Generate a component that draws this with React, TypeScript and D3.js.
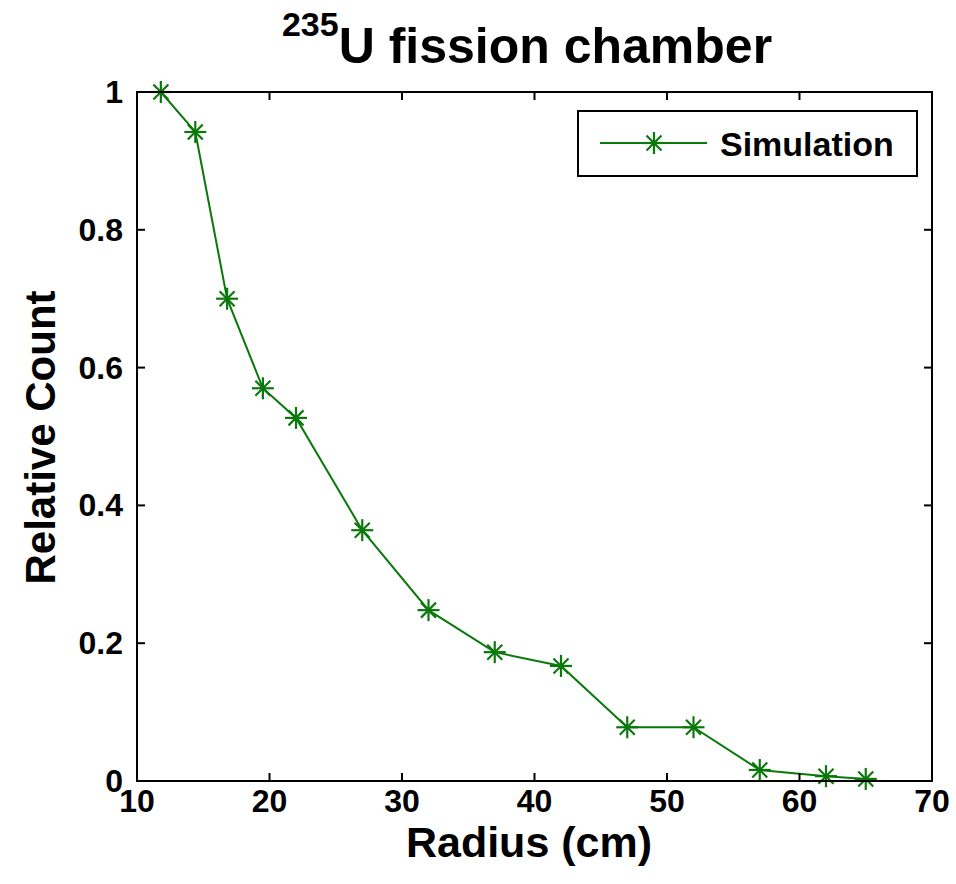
import React from "react";
import * as d3 from "d3";

const radius = [11.8, 14.4, 16.8, 19.5, 22, 27, 32, 37, 42, 47, 52, 57, 62, 65];
const relativeCount = [1.0, 0.942, 0.7, 0.57, 0.527, 0.364, 0.248, 0.187, 0.167, 0.078, 0.078, 0.016, 0.007, 0.003];
const xTicks = [10, 20, 30, 40, 50, 60, 70];
const yTicks = [0, 0.2, 0.4, 0.6, 0.8, 1];
const yTickLabels = ["0", "0.2", "0.4", "0.6", "0.8", "1"];
const seriesName = "Simulation";
const titleSup = "235";
const titleMain = "U fission chamber";
const xLabel = "Radius (cm)";
const yLabel = "Relative Count";

const W = 956;
const H = 884;
const L = 137, R = 932, T = 92, B = 781;
const GREEN = "#0a780a";
const FONT = "'Liberation Sans', Arial, Helvetica, sans-serif";

function Star({ cx, cy }: { cx: number; cy: number }) {
  const a = 11, d = 7.5;
  return (
    <g stroke={GREEN} strokeWidth={2.2}>
      <line x1={cx - a} y1={cy} x2={cx + a} y2={cy} />
      <line x1={cx} y1={cy - a} x2={cx} y2={cy + a} />
      <line x1={cx - d} y1={cy - d} x2={cx + d} y2={cy + d} />
      <line x1={cx - d} y1={cy + d} x2={cx + d} y2={cy - d} />
    </g>
  );
}

export default function App() {
  const x = d3.scaleLinear().domain([10, 70]).range([L, R]);
  const y = d3.scaleLinear().domain([0, 1]).range([B, T]);
  const pts = radius.map((r, i) => [r, relativeCount[i]] as [number, number]);
  const line = d3.line<[number, number]>().x((d) => x(d[0])).y((d) => y(d[1]));
  const tickLen = 8;

  return (
    <svg width={W} height={H} style={{ position: "absolute", left: 0, top: 0, background: "#fff" }} fontFamily={FONT}>
      <rect x={0} y={0} width={W} height={H} fill="#fff" />
      {/* title */}
      <text x={527} y={63} textAnchor="middle" fontWeight="bold" fill="#000">
        <tspan fontSize={34} dy={-27}>{titleSup}</tspan>
        <tspan fontSize={50} dy={27}>{titleMain}</tspan>
      </text>
      {/* data line */}
      <path d={line(pts) || ""} fill="none" stroke={GREEN} strokeWidth={2} />
      {pts.map((p, i) => (
        <Star key={i} cx={x(p[0])} cy={y(p[1])} />
      ))}
      {/* axes box */}
      <rect x={L} y={T} width={R - L} height={B - T} fill="none" stroke="#000" strokeWidth={2} />
      {xTicks.map((t) => (
        <g key={"x" + t}>
          <line x1={x(t)} x2={x(t)} y1={B} y2={B - tickLen} stroke="#000" strokeWidth={2} />
          <line x1={x(t)} x2={x(t)} y1={T} y2={T + tickLen} stroke="#000" strokeWidth={2} />
          <text x={x(t)} y={812} textAnchor="middle" fontSize={32} fontWeight="bold" fill="#000">{t}</text>
        </g>
      ))}
      {yTicks.map((t, i) => (
        <g key={"y" + t}>
          <line x1={L} x2={L + tickLen} y1={y(t)} y2={y(t)} stroke="#000" strokeWidth={2} />
          <line x1={R} x2={R - tickLen} y1={y(t)} y2={y(t)} stroke="#000" strokeWidth={2} />
          <text x={123} y={y(t) + 11} textAnchor="end" fontSize={32} fontWeight="bold" fill="#000">{yTickLabels[i]}</text>
        </g>
      ))}
      {/* axis labels */}
      <text x={529} y={857} textAnchor="middle" fontSize={43} fontWeight="bold" fill="#000">{xLabel}</text>
      <text transform={`translate(55, ${(T + B) / 2 + 1}) rotate(-90)`} textAnchor="middle" fontSize={42} fontWeight="bold" fill="#000">{yLabel}</text>
      {/* legend */}
      <rect x={578} y={111} width={339} height={65} fill="#fff" stroke="#000" strokeWidth={2} />
      <line x1={600} x2={707} y1={143} y2={143} stroke={GREEN} strokeWidth={2} />
      <Star cx={654} cy={143} />
      <text x={720} y={156} fontSize={34} fontWeight="bold" fill="#000">{seriesName}</text>
    </svg>
  );
}
